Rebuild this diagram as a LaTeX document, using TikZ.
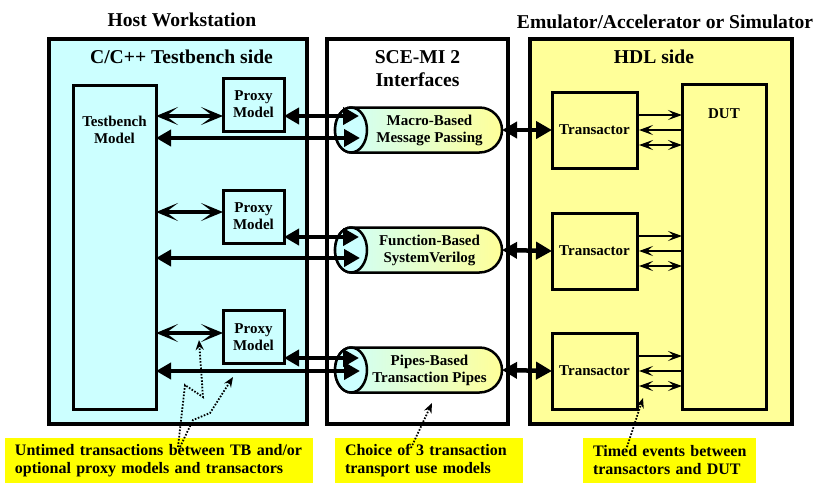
\documentclass[tikz,border=0pt]{standalone}
\usepackage{fontspec}
\setmainfont{Liberation Serif}
\usetikzlibrary{arrows.meta}
\definecolor{cyanF}{HTML}{CCFFFF}
\definecolor{yelF}{HTML}{FFFF99}
\definecolor{labY}{HTML}{FFFF00}
\begin{document}
\begin{tikzpicture}[x=1pt,y=-1pt,
  outerbox/.style={draw, line width=4pt, inner sep=0pt, outer sep=0pt},
  inbox/.style={draw, line width=3pt, inner sep=0pt, outer sep=0pt},
  ttl/.style={font=\fontsize{19.6}{23}\selectfont\bfseries, inner sep=0pt, anchor=base},
  lbl/.style={font=\fontsize{15}{17}\selectfont\bfseries, align=center, inner sep=0pt},
  note/.style={fill=labY, font=\fontsize{16}{18}\selectfont\bfseries, align=left, inner ysep=0pt, minimum height=45pt},
  fat/.style={line width=4.5pt, {Triangle[length=15pt,width=16pt]}-{Triangle[length=16pt,width=17pt]}},
  barb/.style={line width=4.5pt, {Stealth[length=22pt,width=18pt,inset=12pt]}-{Stealth[length=22pt,width=18pt,inset=12pt]}},
  thinline/.style={line width=1.8pt},
  thintip/.tip={Stealth[length=14pt,width=10pt,inset=6pt]},
  dots/.style={line width=1.8pt, dash pattern=on 1.6pt off 1.6pt, -{Stealth[length=10pt,width=8pt]}},
]
\useasboundingbox (0,0) rectangle (815,483);

% titles
\node[ttl] (hw) at (182,26) {Host Workstation};
\node[ttl] (em) at (665,28) {Emulator/Accelerator or Simulator};

% main boxes
\node[outerbox, fill=cyanF, minimum width=258pt, minimum height=385pt] (tbside) at (178,231.5) {};
\node[outerbox, fill=white, minimum width=181pt, minimum height=385pt] (mid) at (417.5,231.5) {};
\node[outerbox, fill=yelF, minimum width=262pt, minimum height=385pt] (hdl) at (661,231.5) {};

\node[ttl] (cst) at (181.5,63) {C/C++ Testbench side};
\node[ttl] (sce) at (417.5,63) {SCE-MI 2};
\node[ttl] (ifc) at (417.5,86) {Interfaces};
\node[ttl] (hdlt) at (654,63) {HDL side};

% testbench
\node[inbox, minimum width=83pt, minimum height=324pt] (tb) at (114.5,247) {};
\node[lbl] (tbl) at (114.5,130) {Testbench\\Model};

% proxies
\node[inbox, lbl, minimum width=61pt, minimum height=53pt] (p1) at (253.5,104.5) {Proxy\\Model};
\node[inbox, lbl, minimum width=61pt, minimum height=53pt] (p2) at (253.5,216.5) {Proxy\\Model};
\node[inbox, lbl, minimum width=61pt, minimum height=53pt] (p3) at (253.5,337) {Proxy\\Model};

% transactors and DUT
\node[inbox, lbl, minimum width=85pt, minimum height=76pt] (tr1) at (594.5,130) {Transactor};
\node[inbox, lbl, minimum width=85pt, minimum height=76pt] (tr2) at (594.5,251) {Transactor};
\node[inbox, lbl, minimum width=85pt, minimum height=76pt] (tr3) at (594.5,371) {Transactor};
\node[inbox, minimum width=84pt, minimum height=325pt] (dut) at (724,246.5) {};
\node[lbl] (dutl) at (724,113.5) {DUT};

% cylinders
\foreach \n/\y in {c1/130,c2/250,c3/370}{
  \node[minimum width=167pt, minimum height=45pt, inner sep=0pt, outer sep=0pt] (\n) at (418.5,\y) {};
  \shadedraw[left color=cyanF, right color=yelF, line width=2.5pt]
    ([xshift=16pt]\n.north west) -- ([xshift=-22.5pt]\n.north east)
    arc[start angle=90, end angle=-90, radius=22.5pt]
    -- ([xshift=16pt]\n.south west)
    arc[start angle=270, end angle=90, x radius=16pt, y radius=22.5pt] -- cycle;
  \filldraw[fill=cyanF, line width=2.5pt] ([xshift=16pt]\n.west) ellipse [x radius=16pt, y radius=22.5pt];
}
\node[lbl] (c1t) at (429.5,130) {Macro-Based\\Message Passing};
\node[lbl] (c2t) at (429.5,250) {Function-Based\\SystemVerilog};
\node[lbl] (c3t) at (429.5,370) {Pipes-Based\\Transaction Pipes};

% row 1 arrows
\coordinate (a1) at ([yshift=-11.5pt]p1.west);
\draw[barb] (tb.east |- a1) -- (a1);
\coordinate (b1) at ([yshift=-11.5pt]p1.east);
\coordinate (t1) at ([xshift=24pt]c1.west);
\draw[fat] (b1) -- (b1 -| t1);
\coordinate (e1) at ([xshift=25pt,yshift=-8pt]c1.west);
\draw[fat] (tb.east |- e1) -- (e1);

% row 2 arrows
\coordinate (a2) at ([yshift=4.5pt]p2.west);
\draw[barb] (tb.east |- a2) -- (a2);
\coordinate (b2) at ([yshift=-20.5pt]p2.east);
\coordinate (t2) at ([xshift=24pt]c2.west);
\draw[fat] (b2) -- (b2 -| t2);
\coordinate (e2) at ([xshift=25pt,yshift=-8pt]c2.west);
\draw[fat] (tb.east |- e2) -- (e2);

% row 3 arrows
\coordinate (a3) at ([yshift=4pt]p3.west);
\draw[barb] (tb.east |- a3) -- (a3);
\coordinate (b3) at ([yshift=-21pt]p3.east);
\coordinate (t3) at ([xshift=24pt]c3.west);
\draw[fat] (b3) -- (b3 -| t3);
\coordinate (e3) at ([xshift=25pt,yshift=-1pt]c3.west);
\draw[fat] (tb.east |- e3) -- (e3);

% cylinder to transactor
\draw[fat] (c1.east) -- (tr1.west);
\draw[fat] (c2.east) -- (tr2.west);
\draw[fat] (c3.east) -- (tr3.west);

% transactor to DUT
\foreach \t in {tr1,tr2,tr3}{
  \coordinate (u\t) at ([yshift=15pt]\t.east);
  \coordinate (w\t) at ([yshift=-15pt]\t.east);
  \draw[thinline, -thintip] (u\t) -- (u\t -| dut.west);
  \draw[thinline, thintip-] ([xshift=2pt]\t.east) -- (\t.east -| dut.west);
  \draw[line width=2.5pt, thintip-thintip] ([xshift=2pt]w\t) -- (w\t -| dut.west);
}

% notes
\node[note, inner xsep=10pt, text width=288pt] (n1) at (159,460.5) {Untimed transactions between TB and/or\\optional proxy models and transactors};
\node[note, inner xsep=10pt, text width=168pt] (n2) at (429,460.5) {Choice of 3 transaction\\transport use models};
\node[note, inner xsep=5pt, text width=163pt] (n3) at (669.5,460.5) {\hspace*{5pt}Timed events between\\\hspace*{5pt}transactors and DUT};

% dotted pointers
\coordinate (d1s) at (178,447);
\coordinate (d1e) at (199,340);
\draw[dots] (d1s) -- (185,385) -- (203,397) -- (d1e);
\coordinate (d2s) at (180,447);
\coordinate (d2e) at (233,377);
\draw[dots] (d2s) -- (193,420) -- (210,413) -- (d2e);
\coordinate (d3s) at (411,448);
\coordinate (d3e) at (432,403);
\draw[dots] (d3s) -- (d3e);
\coordinate (d4s) at (627,447);
\coordinate (d4e) at (643,398);
\draw[dots] (d4s) -- (d4e);
\end{tikzpicture}
\end{document}
